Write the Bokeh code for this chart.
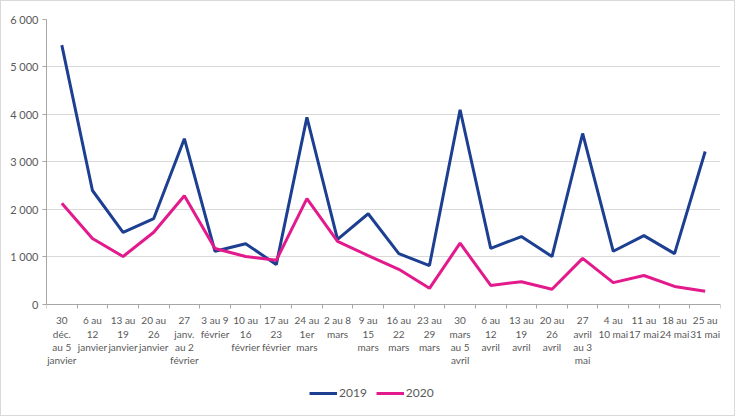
from bokeh.plotting import figure
from bokeh.models import ColumnDataSource, FixedTicker, Legend, LegendItem, Range1d
from bokeh.embed import file_html
from bokeh.resources import INLINE

# Weekly periods (x-axis labels, line-broken as in the report)
weeks = [
    "30\ndéc.\nau 5\njanvier", "6 au\n12\njanvier", "13 au\n19\njanvier", "20 au\n26\njanvier",
    "27\njanv.\nau 2\nfévrier", "3 au 9\nfévrier", "10 au\n16\nfévrier", "17 au\n23\nfévrier",
    "24 au\n1er\nmars", "2 au 8\nmars", "9 au\n15\nmars", "16 au\n22\nmars", "23 au\n29\nmars",
    "30\nmars\nau 5\navril", "6 au\n12\navril", "13 au\n19\navril", "20 au\n26\navril",
    "27\navril\nau 3\nmai", "4 au\n10 mai", "11 au\n17 mai", "18 au\n24 mai", "25 au\n31 mai",
]

values_2019 = [5460, 2400, 1520, 1810, 3490, 1120, 1280, 840, 3940, 1370, 1910,
               1070, 820, 4100, 1180, 1430, 1010, 3600, 1120, 1450, 1070, 3220]
values_2020 = [2130, 1390, 1010, 1520, 2290, 1180, 1010, 930, 2230, 1330, 1030,
               740, 340, 1290, 400, 480, 320, 970, 460, 610, 380, 280]

y_ticks = [0, 1000, 2000, 3000, 4000, 5000, 6000]
y_tick_labels = ["0", "1 000", "2 000", "3 000", "4 000", "5 000", "6 000"]

positions = list(range(1, len(weeks) + 1))
source = ColumnDataSource(dict(x=positions, y2019=values_2019, y2020=values_2020))

TEXT = "#595959"
GRID = "#d9d9d9"
FONT = "Lato"

# The frame runs down to the legend; the value axis itself spans 0..6000
p = figure(frame_width=674, frame_height=391, output_backend="svg", toolbar_location=None,
           x_range=Range1d(0.5, len(weeks) + 0.5), y_range=Range1d(-2232, 6000),
           min_border_left=45, min_border_right=14, min_border_top=18, min_border_bottom=5)
p.styles = {"border": "1px solid #d9d9d9"}
p.outline_line_color = None
p.background_fill_color = "white"
p.border_fill_color = "white"

r19 = p.line("x", "y2019", source=source, line_color="#1d3f91", line_width=3)
r20 = p.line("x", "y2020", source=source, line_color="#e31a8c", line_width=3)

# x axis pinned at zero: labels at week centres, tick marks on week boundaries
p.xaxis.fixed_location = 0
p.xaxis.ticker = FixedTicker(ticks=positions,
                             minor_ticks=[i + 0.5 for i in range(0, len(weeks) + 1)])
p.xaxis.major_label_overrides = {i + 1: w for i, w in enumerate(weeks)}
p.xaxis.major_tick_line_color = None
p.xaxis.major_tick_out = 4
p.xaxis.minor_tick_in = 0
p.xaxis.minor_tick_out = 4
p.xaxis.minor_tick_line_color = "#a6a6a6"
p.xaxis.axis_line_color = "#a6a6a6"
p.xaxis.major_label_text_font = FONT
p.xaxis.major_label_text_font_size = "10px"
p.xaxis.major_label_text_color = TEXT
p.xaxis.major_label_text_align = "center"
p.xaxis.major_label_text_line_height = 1.1
p.xaxis.major_label_standoff = 6

# y axis
p.yaxis.bounds = (0, 6000)
p.yaxis.ticker = FixedTicker(ticks=y_ticks, minor_ticks=[])
p.yaxis.major_label_overrides = dict(zip(y_ticks, y_tick_labels))
p.yaxis.axis_line_color = "#a6a6a6"
p.yaxis.major_tick_line_color = "#a6a6a6"
p.yaxis.major_tick_in = 0
p.yaxis.major_tick_out = 4
p.yaxis.major_label_text_font = FONT
p.yaxis.major_label_text_font_size = "11px"
p.yaxis.major_label_text_color = TEXT
p.yaxis.major_label_standoff = 4

p.xgrid.grid_line_color = None
p.ygrid.grid_line_color = GRID
p.ygrid.ticker = FixedTicker(ticks=y_ticks[1:])

legend = Legend(items=[LegendItem(label="2019", renderers=[r19]),
                       LegendItem(label="2020", renderers=[r20])],
                orientation="horizontal", location=(263, 10),
                label_text_font=FONT, label_text_font_size="12px",
                label_text_color=TEXT, glyph_width=28, label_standoff=2,
                spacing=9, background_fill_alpha=0, border_line_color=None,
                padding=0, margin=0, label_height=14, glyph_height=14)
p.add_layout(legend, "center")

open("out.html", "w").write(file_html(p, INLINE))
